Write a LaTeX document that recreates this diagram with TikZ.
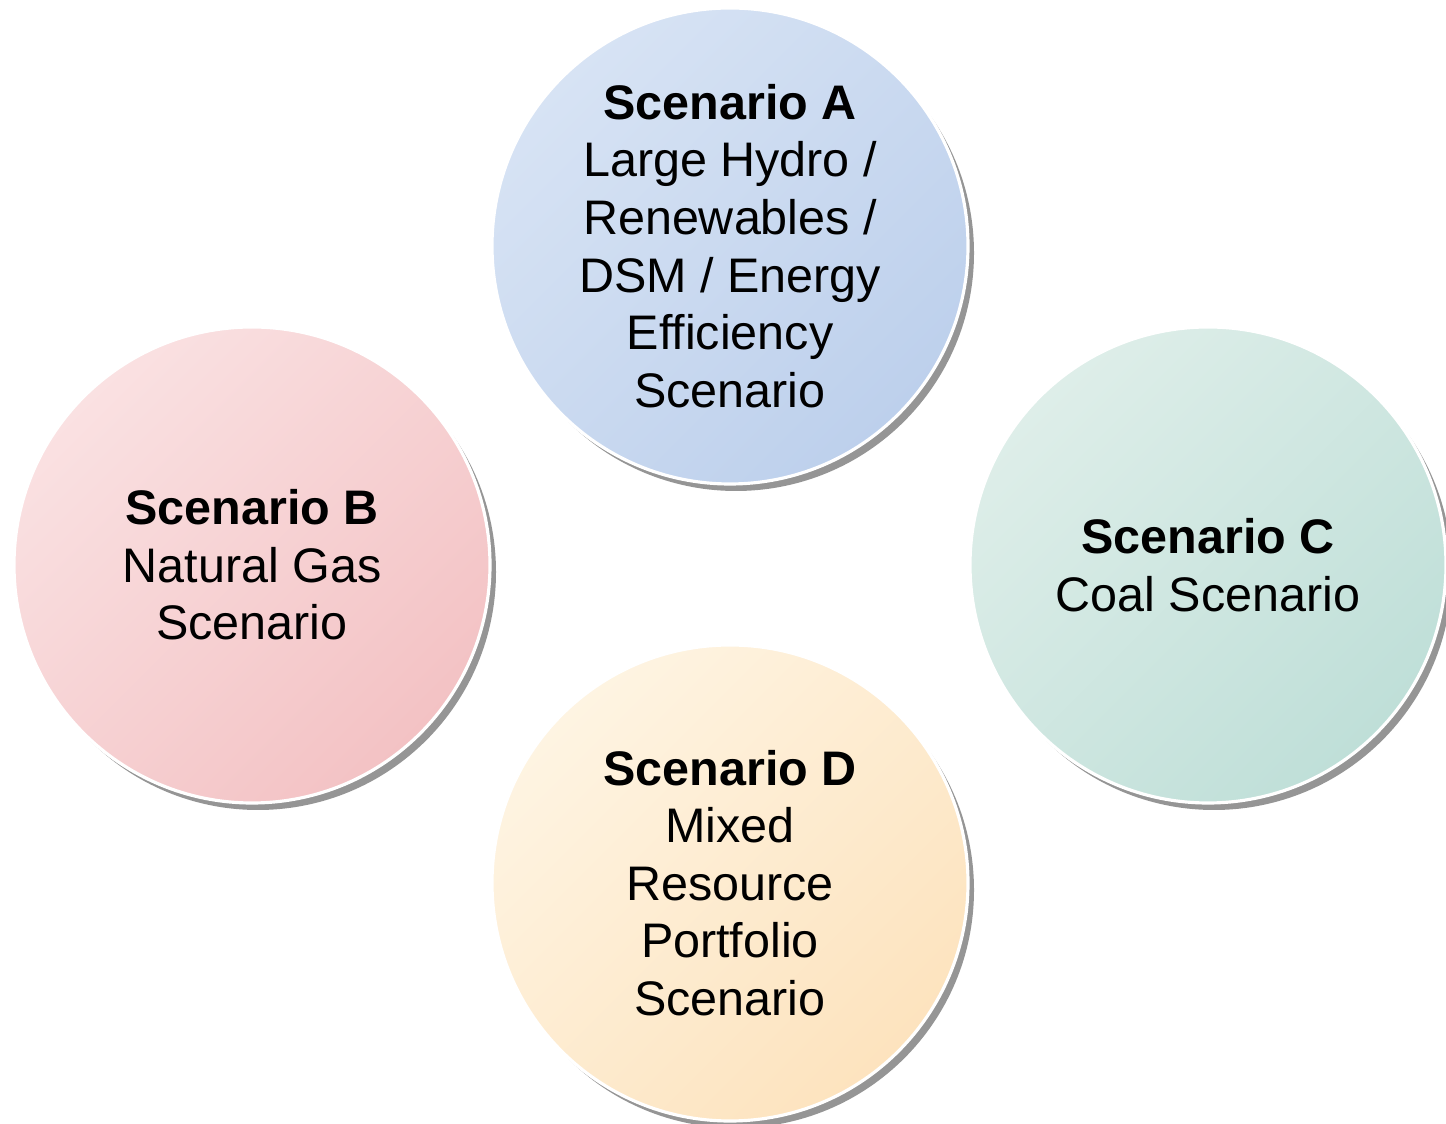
\documentclass[tikz,border=0pt]{standalone}
\usepackage{fontspec}
\setmainfont{Liberation Sans}
\usetikzlibrary{shadows}
\definecolor{ALight}{HTML}{D7E3F4}
\definecolor{ADark}{HTML}{BDD0EC}
\definecolor{BLight}{HTML}{FAE1E2}
\definecolor{BDark}{HTML}{F3C2C4}
\definecolor{CLight}{HTML}{DEEEE9}
\definecolor{CDark}{HTML}{BFDFD8}
\definecolor{DLight}{HTML}{FEF4E2}
\definecolor{DDark}{HTML}{FDE3BE}
\definecolor{ShadowGray}{HTML}{959595}

\tikzset{
  scenario/.style={circle, minimum size=4.76cm, inner sep=0pt, draw=white, line width=0.9pt,
    align=center, font=\fontsize{13.8}{16.4}\selectfont,
    drop shadow={fill=ShadowGray, opacity=1, shadow xshift=0.06cm, shadow yshift=-0.07cm}},
  shadeA/.style={top color=ALight, bottom color=ADark, shading angle=45},
  shadeB/.style={top color=BLight, bottom color=BDark, shading angle=45},
  shadeC/.style={top color=CLight, bottom color=CDark, shading angle=45},
  shadeD/.style={top color=DLight, bottom color=DDark, shading angle=45}
}

\begin{document}
\begin{tikzpicture}
  \useasboundingbox (0,0) rectangle (14.46,-11.24);
  % four scenario circles
  \node[scenario, shadeA] (scenA) at (7.30,-2.46)
    {\textbf{Scenario A}\\Large Hydro /\\Renewables /\\DSM / Energy\\Efficiency\\Scenario};
  \node[scenario, shadeB] (scenB) at (2.52,-5.65)
    {\textbf{Scenario B}\\Natural Gas\\Scenario};
  \node[scenario, shadeC] (scenC) at (12.08,-5.65)
    {\textbf{Scenario C}\\Coal Scenario};
  \node[scenario, shadeD] (scenD) at (7.30,-8.83)
    {\textbf{Scenario D}\\Mixed\\Resource\\Portfolio\\Scenario};
\end{tikzpicture}
\end{document}
